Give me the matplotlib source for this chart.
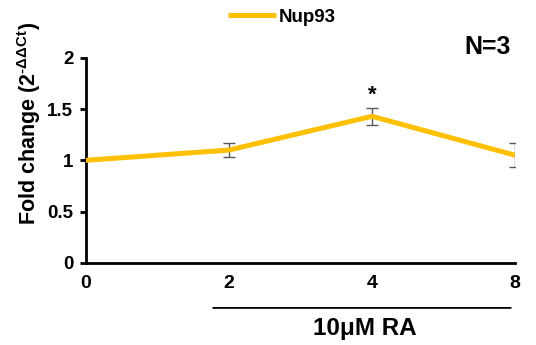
import numpy as np
import matplotlib.pyplot as plt

plt.rcParams.update({
    "font.family": ["Liberation Sans", "DejaVu Sans"],
    "font.weight": "bold",
    "mathtext.fontset": "custom",
    "mathtext.rm": "Liberation Sans:bold",
    "mathtext.bf": "Liberation Sans:bold",
    "mathtext.it": "Liberation Sans:bold",
    "axes.linewidth": 2.0,
})

# data
days = ["0", "2", "4", "8"]
fold_change = [1.00, 1.10, 1.43, 1.05]
fold_err = [0.0, 0.07, 0.085, 0.12]
signif = ["", "", "*", ""]

x = np.arange(len(days))

fig = plt.figure(figsize=(5.36, 3.45), dpi=100)
ax = fig.add_axes([0.160, 0.2386, 0.801, 0.5934])

ax.errorbar(x, fold_change, yerr=fold_err, fmt="none", ecolor="#595959",
            elinewidth=1.0, capsize=4, capthick=1.0, zorder=2)
ax.plot(x, fold_change, color="#FFC000", lw=3.6, solid_capstyle="butt",
        label="Nup93", zorder=3)

for xi, yi, ei, s in zip(x, fold_change, fold_err, signif):
    if s:
        ax.text(xi, yi + ei + 0.02, s, ha="center", va="bottom",
                fontsize=16, fontweight="bold")

ax.set_xlim(0, len(days) - 1)
ax.set_ylim(0, 2)
ax.set_yticks([0, 0.5, 1, 1.5, 2])
ax.set_yticklabels(["0", "0.5", "1", "1.5", "2"])
ax.set_xticks(x)
ax.set_xticklabels(days)
ax.tick_params(axis="y", length=4, width=2, labelsize=13.5, pad=5)
ax.tick_params(axis="x", length=0, labelsize=14, pad=9)
for side in ["top", "right"]:
    ax.spines[side].set_visible(False)

ax.set_ylabel(r"Fold change (2$^{\text{-}\Delta\Delta Ct}$)", fontsize=15.5,
              fontweight="bold")
ax.yaxis.set_label_coords(-0.10, 0.68)

# treatment bracket under days 2-8
ax.annotate("", xy=(x[1] - 0.11, -0.221), xytext=(x[-1] - 0.03, -0.221),
            xycoords=("data", "axes fraction"), textcoords=("data", "axes fraction"),
            arrowprops=dict(arrowstyle="-", lw=1.3, color="black",
                            shrinkA=0, shrinkB=0),
            annotation_clip=False)
ax.text((x[1] + x[-1]) / 2 - 0.05, -0.322, "10μM RA", transform=ax.get_xaxis_transform(),
        ha="center", va="center", fontsize=17.5, fontweight="bold")

ax.text(0.937, 1.054, "N=3", transform=ax.transAxes, ha="center", va="center",
        fontsize=18, fontweight="bold")

ax.legend(loc="center", bbox_to_anchor=(0.457, 1.20), frameon=False,
          fontsize=13.5, handlelength=2.6, handletextpad=0.15)

fig.savefig("out.png", dpi=100)
